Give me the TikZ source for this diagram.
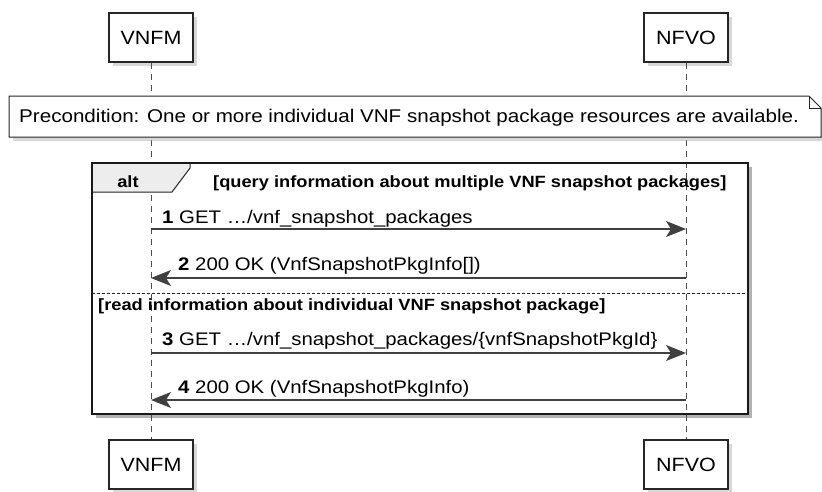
\documentclass[tikz,border=0pt]{standalone}
\usepackage{fontspec}
\setmainfont{Liberation Sans}[FakeStretch=1.12]
\usetikzlibrary{positioning,arrows.meta,shadows}

\tikzset{
  party/.style={draw=black!85, fill=white, line width=1.2pt, minimum width=84pt,
    minimum height=49pt, inner sep=0pt, font=\fontsize{19.2}{22}\selectfont,
    drop shadow={shadow xshift=4pt, shadow yshift=-4pt, fill=black!30}},
  life/.style={draw=black!70, line width=1pt, dash pattern=on 6pt off 5pt},
  msg/.style={draw=black!75, line width=1.2pt, -{Stealth[length=20pt, width=16pt, inset=5pt]}},
  lbl/.style={anchor=base west, inner sep=0pt, font=\fontsize{18.2}{21}\selectfont},
  guard/.style={anchor=base west, inner sep=0pt, font=\bfseries\fontsize{16.3}{19}\selectfont},
}

\begin{document}
\begin{tikzpicture}[x=1pt, y=-1pt]
\useasboundingbox (0,0) rectangle (822,491);

% Participants, top and bottom
\node[party] (vnfmTop) at (151,37.5) {VNFM};
\node[party] (nfvoTop) at (686,37.5) {NFVO};
\node[party] (vnfmBot) at (151,464.5) {VNFM};
\node[party] (nfvoBot) at (686,464.5) {NFVO};

% Alt frame background and shadow
\fill[black!30] (96,167) rectangle (752,418);
\fill[white] (92,163) rectangle (748,414);

% Lifelines
\draw[life] (vnfmTop) -- (vnfmBot);
\draw[life] (nfvoTop) -- (nfvoBot);

% Precondition note
\draw[draw=black!85, fill=white, line width=1pt,
  drop shadow={shadow xshift=4pt, shadow yshift=-4pt, fill=black!30}]
  (9,96) -- (809,96) -- (821,108) -- (821,137) -- (9,137) -- cycle;
\draw[black!85, line width=1pt] (809,96) -- (809,108) -- (821,108);
\node[lbl, font=\fontsize{18.4}{21}\selectfont] (pre) at (19,122)
  {Precondition: One or more individual VNF snapshot package resources are available.};

% Alt frame with its tab
\draw[black!85, fill=black!7, line width=1pt]
  (92,163) -- (190,163) -- (190,168) -- (172,192) -- (92,192) -- cycle;
\draw[black!90, line width=2pt] (92,163) rectangle (748,414);
\node[anchor=base, inner sep=0pt, font=\bfseries\fontsize{16.3}{19}\selectfont] (alt) at (128,187) {alt};
\node[guard] (g1) at (213,187) {[query information about multiple VNF snapshot packages]};

% Separator between the two cases
\draw[black!85, line width=0.8pt, dash pattern=on 2.5pt off 2.5pt] (92,293) -- (748,293);
\node[guard] (g2) at (98,310) {[read information about individual VNF snapshot package]};

% Message end points on the lifelines
\foreach \y/\n in {229/1, 278/2, 353/3, 400/4}
{
    \coordinate (v\n) at (151,\y);
    \coordinate (n\n) at (686,\y);
}

% Messages
\draw[msg] (v1) -- (n1);
\node[lbl] (l1) at (162,223) {\textbf{1} GET …/vnf\_snapshot\_packages};
\draw[msg] (n2) -- (v2);
\node[lbl] (l2) at (178,270) {\textbf{2} 200 OK (VnfSnapshotPkgInfo[])};
\draw[msg] (v3) -- (n3);
\node[lbl] (l3) at (162,345) {\textbf{3} GET …/vnf\_snapshot\_packages/\{vnfSnapshotPkgId\}};
\draw[msg] (n4) -- (v4);
\node[lbl] (l4) at (178,393) {\textbf{4} 200 OK (VnfSnapshotPkgInfo)};

\end{tikzpicture}
\end{document}
